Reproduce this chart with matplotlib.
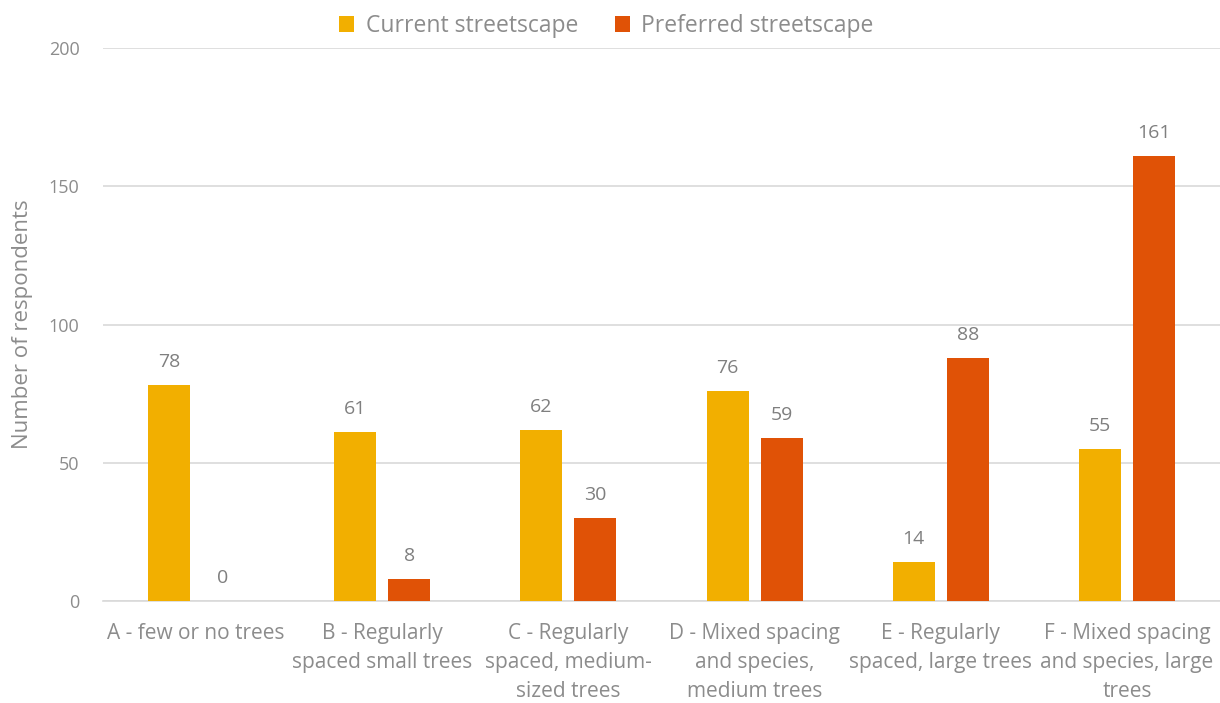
import matplotlib
matplotlib.use("Agg")
import matplotlib.pyplot as plt
import numpy as np
from matplotlib import font_manager

names = {f.name for f in font_manager.fontManager.ttflist}
fam = [f for f in ["Liberation Sans Narrow", "Open Sans", "DejaVu Sans"] if f in names]
plt.rcParams['font.family'] = fam

categories = ["A - few or no trees",
              "B - Regularly\nspaced small trees",
              "C - Regularly\nspaced, medium-\nsized trees",
              "D - Mixed spacing\nand species,\nmedium trees",
              "E - Regularly\nspaced, large trees",
              "F - Mixed spacing\nand species, large\ntrees"]
current = [78, 61, 62, 76, 14, 55]
preferred = [0, 8, 30, 59, 88, 161]
series_names = ["Current streetscape", "Preferred streetscape"]
yticks = [0, 50, 100, 150, 200]

c_yellow = "#F2AF00"
c_orange = "#E05206"
txt = "#8C8C8C"
grid = "#D9D9D9"

fig = plt.figure(figsize=(12.2, 7.03), dpi=100)
ax = fig.add_axes([103/1220, 1-601/703, 1-103/1220, (601-48)/703])

x = np.arange(len(categories))
w = 0.2256
off = 0.145
b1 = ax.bar(x - off, current, w, color=c_yellow, label=series_names[0], zorder=3)
b2 = ax.bar(x + off, preferred, w, color=c_orange, label=series_names[1], zorder=3)

for bars, vals in ((b1, current), (b2, preferred)):
    for r, v in zip(bars, vals):
        ax.annotate(str(v), (r.get_x() + r.get_width()/2, v), xytext=(0, 10),
                    textcoords="offset points", ha="center", va="bottom",
                    fontsize=14, color="#7F7F7F")

ax.set_xlim(-0.5, len(categories) - 0.5)
ax.set_ylim(0, 200)
ax.set_yticks(yticks)
ax.set_xticks(x)
ax.set_xticklabels(categories, fontsize=15, color=txt, linespacing=1.5)
ax.tick_params(axis='x', length=0, pad=16)
ax.tick_params(axis='y', length=0, pad=17, labelsize=13, labelcolor=txt)
ax.yaxis.grid(True, color=grid, linewidth=1.2, zorder=0)
for s in ["top", "right", "left"]:
    ax.spines[s].set_visible(False)
ax.spines["bottom"].set_color(grid)
ax.spines["bottom"].set_linewidth(1.2)
ax.set_ylabel("Number of respondents", fontsize=16, color=txt)
ax.yaxis.set_label_coords(-0.0625, 0.5)

fig.legend(loc="upper center", bbox_to_anchor=(0.497, 1.01), ncol=2, frameon=False,
           fontsize=16.5, labelcolor=txt, handlelength=0.65, handleheight=0.7,
           columnspacing=1.6, handletextpad=0.5)

fig.savefig("out.png", dpi=100)
